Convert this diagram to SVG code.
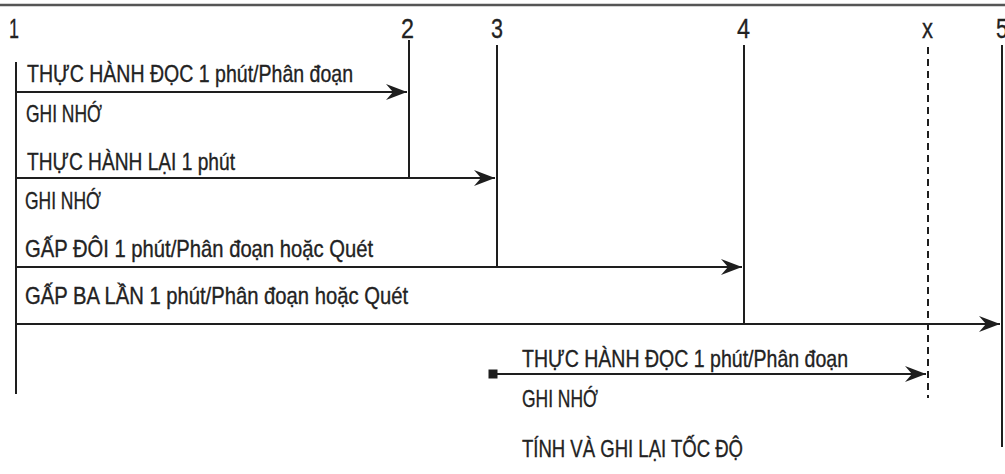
<svg xmlns="http://www.w3.org/2000/svg" width="1005" height="474" viewBox="0 0 1005 474">
<style>
.t{font-family:"Liberation Sans",Arial,sans-serif;font-size:24px;fill:#222;stroke:#222;stroke-width:0.35}
.n{font-family:"Liberation Sans",Arial,sans-serif;font-size:27px;fill:#222;stroke:#222;stroke-width:0.3}
.l{stroke:#1e1e1e;stroke-width:2;fill:none}
.d{stroke:#1e1e1e;stroke-width:2;fill:none;stroke-dasharray:7 5}
</style>
<defs>
<marker id="ah" markerUnits="userSpaceOnUse" markerWidth="24" markerHeight="20" viewBox="-22 -10 24 20" refX="0" refY="0" orient="auto">
<path d="M0,0 L-21,-8 L-14,0 L-21,8 Z" fill="#1e1e1e"/>
</marker>
</defs>
<rect width="1005" height="474" fill="#fff"/>
<line x1="0" y1="5" x2="1005" y2="5" stroke="#555" stroke-width="2.5"/>
<g id="markers">
<text class="n" x="9" y="38" textLength="10" lengthAdjust="spacingAndGlyphs">1</text>
<text class="n" x="401" y="38" textLength="13" lengthAdjust="spacingAndGlyphs">2</text>
<text class="n" x="491" y="38" textLength="12" lengthAdjust="spacingAndGlyphs">3</text>
<text class="n" x="737" y="38" textLength="13" lengthAdjust="spacingAndGlyphs">4</text>
<text class="n" x="922" y="38" textLength="11" lengthAdjust="spacingAndGlyphs">x</text>
<text class="n" x="996" y="38" textLength="12" lengthAdjust="spacingAndGlyphs">5</text>
</g>
<g id="connectors">
<line class="l" x1="16" y1="62" x2="16" y2="394"/>
<line class="l" x1="409" y1="40" x2="409" y2="178"/>
<line class="l" x1="497" y1="45" x2="497" y2="267"/>
<line class="l" x1="744" y1="45" x2="744" y2="324"/>
<line class="l" x1="1002" y1="45" x2="1002" y2="447"/>
<line class="d" x1="928" y1="47" x2="928" y2="398"/>
<line class="l" x1="16" y1="92" x2="407" y2="92" marker-end="url(#ah)"/>
<line class="l" x1="16" y1="178" x2="495" y2="178" marker-end="url(#ah)"/>
<line class="l" x1="16" y1="267" x2="742" y2="267" marker-end="url(#ah)"/>
<line class="l" x1="16" y1="324" x2="1000" y2="324" marker-end="url(#ah)"/>
<line class="l" x1="493" y1="374" x2="926" y2="374" marker-end="url(#ah)"/>
<rect x="488.5" y="369.5" width="9" height="9" fill="#1e1e1e"/>
</g>
<g id="step1">
<text class="t" x="27" y="82" textLength="326" lengthAdjust="spacingAndGlyphs">THỰC HÀNH ĐỌC 1 phút/Phân đoạn</text>
<text class="t" x="26" y="122" textLength="76" lengthAdjust="spacingAndGlyphs">GHI NHỚ</text>
</g>
<g id="step2">
<text class="t" x="27" y="170" textLength="208" lengthAdjust="spacingAndGlyphs">THỰC HÀNH LẠI 1 phút</text>
<text class="t" x="25" y="209" textLength="76" lengthAdjust="spacingAndGlyphs">GHI NHỚ</text>
</g>
<g id="step3">
<text class="t" x="25" y="257" textLength="348" lengthAdjust="spacingAndGlyphs">GẤP ĐÔI 1 phút/Phân đoạn hoặc Quét</text>
</g>
<g id="step4">
<text class="t" x="25" y="304" textLength="383" lengthAdjust="spacingAndGlyphs">GẤP BA LẦN 1 phút/Phân đoạn hoặc Quét</text>
</g>
<g id="step5">
<text class="t" x="522" y="367" textLength="326" lengthAdjust="spacingAndGlyphs">THỰC HÀNH ĐỌC 1 phút/Phân đoạn</text>
<text class="t" x="522" y="407" textLength="76" lengthAdjust="spacingAndGlyphs">GHI NHỚ</text>
<text class="t" x="522" y="457" textLength="221" lengthAdjust="spacingAndGlyphs">TÍNH VÀ GHI LẠI TỐC ĐỘ</text>
</g>
</svg>
